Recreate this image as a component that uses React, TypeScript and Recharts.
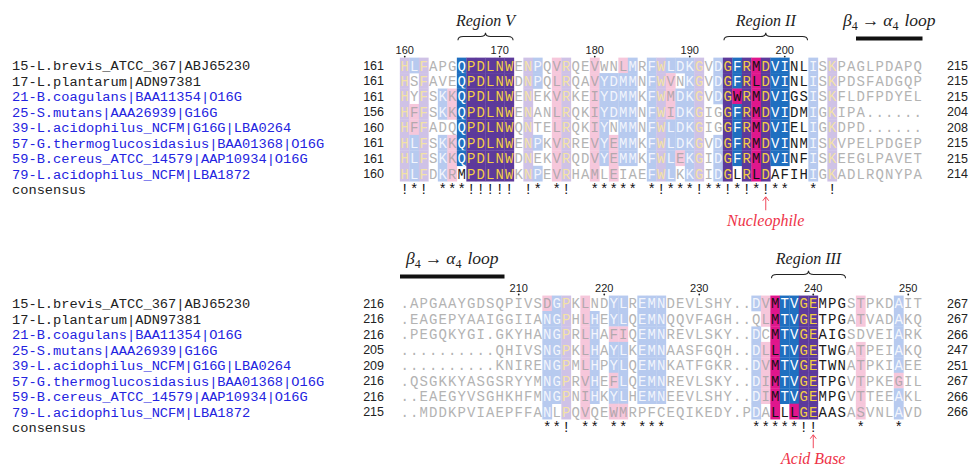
import React from "react";
import { ReferenceArea, Scatter, ScatterChart, XAxis, YAxis } from "recharts";

// sequence names, left column
const names = [
  "15-L.brevis_ATCC_367|ABJ65230",
  "17-L.plantarum|ADN97381",
  "21-B.coagulans|BAA11354|O16G",
  "25-S.mutans|AAA26939|G16G",
  "39-L.acidophilus_NCFM|G16G|LBA0264",
  "57-G.thermoglucosidasius|BAA01368|O16G",
  "59-B.cereus_ATCC_14579|AAP10934|O16G",
  "79-L.acidophilus_NCFM|LBA1872",
];
const highlighted = [false, false, true, true, true, true, true, true];

const topStart = [161, 161, 161, 156, 160, 161, 161, 160];
const topEnd = [215, 215, 215, 204, 208, 215, 215, 214];
const bottomStart = [216, 216, 216, 205, 209, 216, 216, 215];
const bottomEnd = [267, 267, 266, 247, 251, 267, 266, 266];

const topSeqs = [
  "HLFAPGQPDLNWENPQVRQEVWNLMRFWLDKGVDGFRMDVINLISKPAGLPDAPQ",
  "HSFAVEQPDLNWDNPQLRQAVYDMMNFWVNKGVDGFRLDVINLISKPDSFADGQP",
  "HYFSKKQPDLNWENEKVRKEIYDMMKFWMDKGVDGWRMDVIGSISKFLDFPDYEL",
  "HFFSKKQPDLNWENANLRQKIYDMMNFWIDKGIGGFRMDVIDMIGKIPA......",
  "HFFADQQPDLNWQNTELRQKIYNMMNFWLDKGIGGFRMDVIELIGKDPD......",
  "HLFSKKQPDLNWENPKVRREVYEMMKFWLDKGVDGFRMDVINMISKVPELPDGEP",
  "HLFSKKQPDLNWDNEKVRQDVYEMMKFWLEKGIDGFRMDVINFISKEEGLPAVET",
  "HLFDKRMPDLNWKNPEVRHAMLEIAEFWLKKGIDGLRLDAFIHIGKADLRQNYPA",
];
const bottomSeqs = [
  ".APGAAYGDSQPIVSDGPKLNDYLREMNDEVLSHY..DVMTVGEMPGSTPKDAIT",
  ".EAGEPYAAIGGIIANGPHLHEYLQEMNQQVFAGH..QLMTVGETPGATVADAKQ",
  ".PEGQKYGI.GKYHANGPRLHAFIQEMNREVLSKY..DCMTVGEAIGSDVEIARK",
  "..........QHIVSNGPKLHAYLKEMNAASFGQH..DLLTVGETWGATPEIAKQ",
  "..........KNIRENGPMLHPYLQEMNKATFGKR..DVMTVGETWNATPKIAEE",
  ".QSGKKYASGSRYYMNGPRVHEFLQEMNREVLSKY..DIMTVGETPGVTPKEGIL",
  "..EAEGYVSGHKHFMNGPNIHKYLHEMNEEVLSHY..DIMTVGEMPGVTTEEAKL",
  "..MDDKPVIAEPFFANLPQVQEWMRPFCEQIKEDY.PDALLLGEAASASVNLAVD",
];

// shading class per column (one char per row): I identical, C conserved, S similar
const topShade: Record<number, string> = {
  0: "IIIIIIII", 1: "C..SSCCC", 2: "IIIIIIII", 4: "..CC.CCC", 5: "..SS.SSS",
  6: "CCCCCCC.", 7: "IIIIIIII", 8: "IIIIIIII", 9: "IIIIIIII", 10: "IIIIIIII",
  11: "IIIIIIII", 13: "IIIIIIII", 14: "CC...C.C", 16: "SSSSSSSS", 17: "IIIIIIII",
  20: "SSSSSSSS", 21: ".CCCCCC.", 22: ".CCC.SSS", 23: "SCCCCCC.", 24: "CCCCCCC.",
  26: "CCCCCCCC", 27: "IIIIIIII", 28: "CSSSCCCC", 29: "C.CCCCS.", 30: "CCCCCCCC",
  31: "IIIIIIII", 33: "CCC..CCC", 34: "IIIIIIII", 35: "CCSCCCC.", 36: "IIIIIIII",
  37: "SSSSSSSS", 38: "IIIIIIII", 39: "CCCCCCC.", 40: "CCCCCCC.", 43: "CCCCCCCC",
  45: "IIIIIIII",
};
const bottomShade: Record<number, string> = {
  15: "SCCCCCCC", 16: "CCCCCCC.", 17: "IIIIIIII", 19: "SSSSSSSS", 20: ".CCCCCC.",
  22: "CCSCCSCS", 23: "CCSCCCCS", 25: "CCCCCCC.", 26: "CCCCCCC.", 27: "CCCCCCC.",
  37: "C.CCCCCC", 38: "SS.SSSS.", 39: "SSSSSSSS", 40: "CCCCCCC.", 41: "CCCCCCCS",
  42: "IIIIIIII", 43: "IIIIIIII", 48: "SS.SSSSS", 52: "CCCCCSCC",
};

const topConsensus = "!*! ***!!!!! !* *!  ***** *!***!**!*!*!**  * !         ";
const bottomConsensus = "               **! ** ** ***         *****!!    *   *  ";

const topTickCols = [0, 10, 20, 30, 40];
const topTickLabels = ["160", "170", "180", "190", "200"];
const bottomTickCols = [12, 21, 31, 43, 53];
const bottomTickLabels = ["210", "220", "230", "240", "250"];

const regions = [
  { name: "Region V", block: 0, from: 6, to: 11 },
  { name: "Region II", block: 0, from: 34, to: 42 },
  { name: "Region III", block: 1, from: 39, to: 46 },
];
const loops = [
  { block: 0, from: 48, to: 54 },
  { block: 1, from: 0, to: 10 },
];
const sites = [
  { name: "Nucleophile", block: 0, col: 38 },
  { name: "Acid Base", block: 1, col: 43 },
];

// layout
const W = 974;
const H = 465;
const CW = 9.5;
const PITCH = 15.45;
const X0 = -400 / CW;
const X1 = (W - 400) / CW;
const Y0 = -65.5 / PITCH;
const Y1 = (H - 65.5) / PITCH;
const blockOffset = [0, 15.4];
const nameX = (12 - 400) / CW;
const startX = (384 - 400) / CW;
const endX = (947 - 400) / CW;

const MONO = "'Liberation Mono', 'DejaVu Sans Mono', monospace";
const SANS = "'Liberation Sans', Arial, sans-serif";
const SERIF = "'Liberation Serif', 'DejaVu Serif', serif";

const strongColors: Record<string, string[]> = {
  I: ["#5d3a9b", "#f3cf45"],
  C: ["#1f6fc0", "#ffffff"],
  S: ["#e0168c", "#111111"],
};
const paleColors: Record<string, string[]> = {
  I: ["#cfc2e6", "#f3e2a6"],
  C: ["#b7caef", "#f2f5fc"],
  S: ["#f6c7db", "#b3a8ae"],
};

function buildCells(seqs: string[], shade: Record<number, string>, block: number) {
  const out: any[] = [];
  seqs.forEach((seq, r) => {
    seq.split("").forEach((ch, c) => {
      const strong = regions.some((g) => g.block === block && c >= g.from && c <= g.to);
      const cls = ch === "." ? "." : (shade[c] ?? "........")[r];
      out.push({ x: c + 0.5, y: blockOffset[block] + r, ch, cls, strong });
    });
  });
  return out;
}

const cells = [...buildCells(topSeqs, topShade, 0), ...buildCells(bottomSeqs, bottomShade, 1)];

const labels: any[] = [];
[0, 1].forEach((b) => {
  names.forEach((n, r) =>
    labels.push({ x: nameX, y: blockOffset[b] + r, text: n, kind: highlighted[r] ? "nameHi" : "name" })
  );
  labels.push({ x: nameX, y: blockOffset[b] + 8, text: "consensus", kind: "name" });
  const st = b === 0 ? topStart : bottomStart;
  const en = b === 0 ? topEnd : bottomEnd;
  st.forEach((v, r) => labels.push({ x: startX, y: blockOffset[b] + r, text: String(v), kind: "start" }));
  en.forEach((v, r) => labels.push({ x: endX, y: blockOffset[b] + r, text: String(v), kind: "end" }));
  const cons = b === 0 ? topConsensus : bottomConsensus;
  cons.split("").forEach((ch, c) => {
    if (ch !== " ") labels.push({ x: c + 0.5, y: blockOffset[b] + 8, text: ch, kind: "cons" });
  });
  const tc = b === 0 ? topTickCols : bottomTickCols;
  const tl = b === 0 ? topTickLabels : bottomTickLabels;
  tc.forEach((c, i) => labels.push({ x: c + 0.5, y: blockOffset[b] - 1.0, text: tl[i], kind: "tick" }));
});
regions.forEach((g) =>
  labels.push({ x: (g.from + g.to + 1) / 2, y: blockOffset[g.block] - 2.95, text: g.name, kind: "region" })
);
loops.forEach((l) =>
  labels.push({ x: (l.from + l.to + 1) / 2, y: blockOffset[l.block] - 2.95, text: "loop", kind: "loop" })
);
sites.forEach((s) => {
  labels.push({ x: s.col + 0.5, y: blockOffset[s.block] + 10.0, text: s.name, kind: "site" });
  labels.push({ x: s.col + 0.5, y: blockOffset[s.block] + 8.95, text: "", kind: "arrow" });
});

const CellShape = (p: any) => {
  const { cx, cy, payload } = p;
  let bg: string | null = null;
  let fg = payload.strong ? "#1a1a1a" : "#b3b3b3";
  if (payload.cls !== ".") {
    const pair = (payload.strong ? strongColors : paleColors)[payload.cls];
    bg = pair[0];
    fg = pair[1];
  }
  if (payload.ch === ".") fg = "#b3b3b3";
  return (
    <g>
      {bg && <rect x={cx - CW / 2 - 0.15} y={cy - PITCH / 2 - 0.15} width={CW + 0.3} height={PITCH + 0.3} fill={bg} />}
      <text x={cx} y={cy} dy="0.36em" textAnchor="middle" fontFamily={MONO} fontSize={14} fill={fg}>
        {payload.ch}
      </text>
    </g>
  );
};

const LabelShape = (p: any) => {
  const { cx, cy, payload } = p;
  const k = payload.kind;
  if (k === "name" || k === "nameHi")
    return (
      <text x={cx} y={cy} dy="0.36em" fontFamily={MONO} fontSize={13.7} fill={k === "nameHi" ? "#2323e0" : "#222"}>
        {payload.text}
      </text>
    );
  if (k === "start" || k === "end")
    return (
      <text x={cx} y={cy} dy="0.36em" textAnchor={k === "start" ? "end" : "start"} fontFamily={SANS} fontSize={12.5} fill="#222">
        {payload.text}
      </text>
    );
  if (k === "cons")
    return (
      <text x={cx} y={cy} dy="0.36em" textAnchor="middle" fontFamily={MONO} fontSize={14} fill="#111">
        {payload.text}
      </text>
    );
  if (k === "tick")
    return (
      <g>
        <text x={cx} y={cy} dy="0.36em" textAnchor="middle" fontFamily={SANS} fontSize={11} fill="#222">
          {payload.text}
        </text>
        <circle cx={cx} cy={cy + 6.5} r={0.9} fill="#222" />
      </g>
    );
  if (k === "region")
    return (
      <text x={cx} y={cy} dy="0.36em" textAnchor="middle" fontFamily={SERIF} fontStyle="italic" fontSize={16} fill="#222">
        {payload.text}
      </text>
    );
  if (k === "loop")
    return (
      <text x={cx} y={cy} dy="0.36em" textAnchor="middle" fontFamily={SERIF} fontSize={17.5} fill="#222">
        <tspan fontStyle="italic">β</tspan>
        <tspan fontSize={12} dy={4}>4</tspan>
        <tspan dy={-4} dx={4}>→</tspan>
        <tspan fontStyle="italic" dx={4}>α</tspan>
        <tspan fontSize={12} dy={4}>4</tspan>
        <tspan dy={-4} dx={6} fontStyle="italic">{payload.text}</tspan>
      </text>
    );
  if (k === "site")
    return (
      <text x={cx} y={cy} dy="0.36em" textAnchor="middle" fontFamily={SERIF} fontStyle="italic" fontSize={16} fill="#ee3348">
        {payload.text}
      </text>
    );
  if (k === "arrow")
    return (
      <g stroke="#ee3348" strokeWidth={0.9} fill="none">
        <line x1={cx} y1={cy + 6.5} x2={cx} y2={cy - 6.5} />
        <path d={`M${cx - 3},${cy - 3} L${cx},${cy - 7} L${cx + 3},${cy - 3}`} />
      </g>
    );
  return <g />;
};

const Brace = (p: any) => {
  const x = Math.min(p.x, p.x + p.width);
  const w = Math.abs(p.width);
  const y = Math.min(p.y, p.y + p.height);
  const h = Math.abs(p.height);
  const m = x + w / 2;
  const ym = y + h / 2;
  const yb = y + h;
  const r = h / 2;
  const d = `M${x},${yb} Q${x},${ym} ${x + r * 1.4},${ym} L${m - r * 1.4},${ym} Q${m},${ym} ${m},${y} Q${m},${ym} ${m + r * 1.4},${ym} L${x + w - r * 1.4},${ym} Q${x + w},${ym} ${x + w},${yb}`;
  return <path d={d} stroke="#222" strokeWidth={1.1} fill="none" />;
};

export default function App() {
  return (
    <div style={{ position: "absolute", left: 0, top: 0, width: W, height: H, background: "#fff" }}>
      <ScatterChart width={W} height={H} margin={{ top: 0, right: 0, bottom: 0, left: 0 }}>
        <XAxis type="number" dataKey="x" domain={[X0, X1]} hide allowDataOverflow />
        <YAxis type="number" dataKey="y" domain={[Y0, Y1]} reversed hide allowDataOverflow />
        {regions.map((g) => (
          <ReferenceArea
            key={g.name}
            x1={g.from + 0.1}
            x2={g.to + 0.9}
            y1={blockOffset[g.block] - 2.12}
            y2={blockOffset[g.block] - 1.63}
            shape={(p: any) => <Brace {...p} />}
          />
        ))}
        {loops.map((l, i) => (
          <ReferenceArea
            key={`loop-${i}`}
            x1={l.from}
            x2={l.to + 1}
            y1={blockOffset[l.block] - 1.88}
            y2={blockOffset[l.block] - 1.62}
            fill="#111"
            fillOpacity={1}
            stroke="none"
          />
        ))}
        <Scatter data={cells} shape={CellShape} isAnimationActive={false} />
        <Scatter data={labels} shape={LabelShape} isAnimationActive={false} />
      </ScatterChart>
    </div>
  );
}
